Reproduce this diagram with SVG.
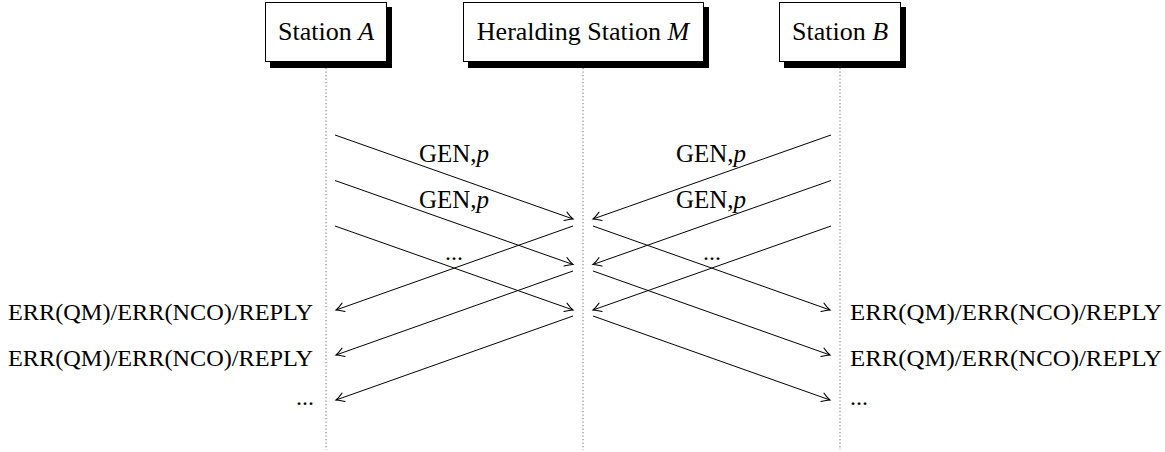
<svg xmlns="http://www.w3.org/2000/svg" width="1165" height="452" viewBox="0 0 1165 452">
<style>
text{font-family:"Liberation Serif","Times New Roman",serif;font-size:24px;fill:#000}
.st{font-size:26px}
.gen{font-size:25px}
.it{font-style:italic}
.box{fill:#fff;stroke:#000;stroke-width:1}
.shadow{fill:#000}
.life{stroke:#888;stroke-width:1.2;stroke-dasharray:1.2 2.3;fill:none}
.msg{stroke:#000;stroke-width:1;fill:none;marker-end:url(#arr)}
</style>
<defs>
<marker id="arr" viewBox="-10 -6 12 12" markerWidth="12" markerHeight="12" refX="0" refY="0" orient="auto" markerUnits="userSpaceOnUse">
<path d="M-8,-4.5 Q-3,-1 0,0 Q-3,1 -8,4.5" fill="none" stroke="#000" stroke-width="1" stroke-linecap="round"/>
</marker>
</defs>
<rect width="1165" height="452" fill="#fff"/>
<g id="lifelines">
<line class="life" x1="326" y1="68" x2="326" y2="450"/>
<line class="life" x1="583" y1="68" x2="583" y2="450"/>
<line class="life" x1="840" y1="68" x2="840" y2="450"/>
</g>
<g id="stationA">
<rect class="shadow" x="270" y="7" width="122" height="61"/>
<rect class="box" x="265.5" y="2.5" width="121" height="59"/>
<text class="st" x="326" y="40" text-anchor="middle">Station <tspan class="it">A</tspan></text>
</g>
<g id="stationM">
<rect class="shadow" x="468" y="7" width="241" height="61"/>
<rect class="box" x="463.5" y="2.5" width="240" height="59"/>
<text class="st" x="583" y="40" text-anchor="middle">Heralding Station <tspan class="it">M</tspan></text>
</g>
<g id="stationB">
<rect class="shadow" x="784" y="7" width="122" height="61"/>
<rect class="box" x="779.5" y="2.5" width="121" height="59"/>
<text class="st" x="840" y="40" text-anchor="middle">Station <tspan class="it">B</tspan></text>
</g>
<g id="connectors">
<line class="msg" x1="335" y1="135" x2="573" y2="219"/>
<line class="msg" x1="335" y1="180.5" x2="573" y2="264.5"/>
<line class="msg" x1="335" y1="226" x2="573" y2="310"/>
<line class="msg" x1="831" y1="135" x2="593" y2="219"/>
<line class="msg" x1="831" y1="180.5" x2="593" y2="264.5"/>
<line class="msg" x1="831" y1="226" x2="593" y2="310"/>
<line class="msg" x1="573" y1="226" x2="336" y2="310"/>
<line class="msg" x1="573" y1="271" x2="336" y2="355"/>
<line class="msg" x1="573" y1="316" x2="336" y2="400"/>
<line class="msg" x1="593" y1="226" x2="830" y2="310"/>
<line class="msg" x1="593" y1="271" x2="830" y2="355"/>
<line class="msg" x1="593" y1="316" x2="830" y2="400"/>
</g>
<g id="labels">
<text class="gen" x="454" y="162" text-anchor="middle">GEN,<tspan class="it">p</tspan></text>
<text class="gen" x="454" y="208" text-anchor="middle">GEN,<tspan class="it">p</tspan></text>
<text x="454" y="260" text-anchor="middle">...</text>
<text class="gen" x="711" y="162" text-anchor="middle">GEN,<tspan class="it">p</tspan></text>
<text class="gen" x="711" y="208" text-anchor="middle">GEN,<tspan class="it">p</tspan></text>
<text x="712" y="260" text-anchor="middle">...</text>
<text x="313" y="320" text-anchor="end" textLength="305" lengthAdjust="spacingAndGlyphs">ERR(QM)/ERR(NCO)/REPLY</text>
<text x="313" y="366" text-anchor="end" textLength="305" lengthAdjust="spacingAndGlyphs">ERR(QM)/ERR(NCO)/REPLY</text>
<text x="314" y="405" text-anchor="end">...</text>
<text x="850" y="320" textLength="312" lengthAdjust="spacingAndGlyphs">ERR(QM)/ERR(NCO)/REPLY</text>
<text x="850" y="366" textLength="312" lengthAdjust="spacingAndGlyphs">ERR(QM)/ERR(NCO)/REPLY</text>
<text x="850" y="405">...</text>
</g>
</svg>
